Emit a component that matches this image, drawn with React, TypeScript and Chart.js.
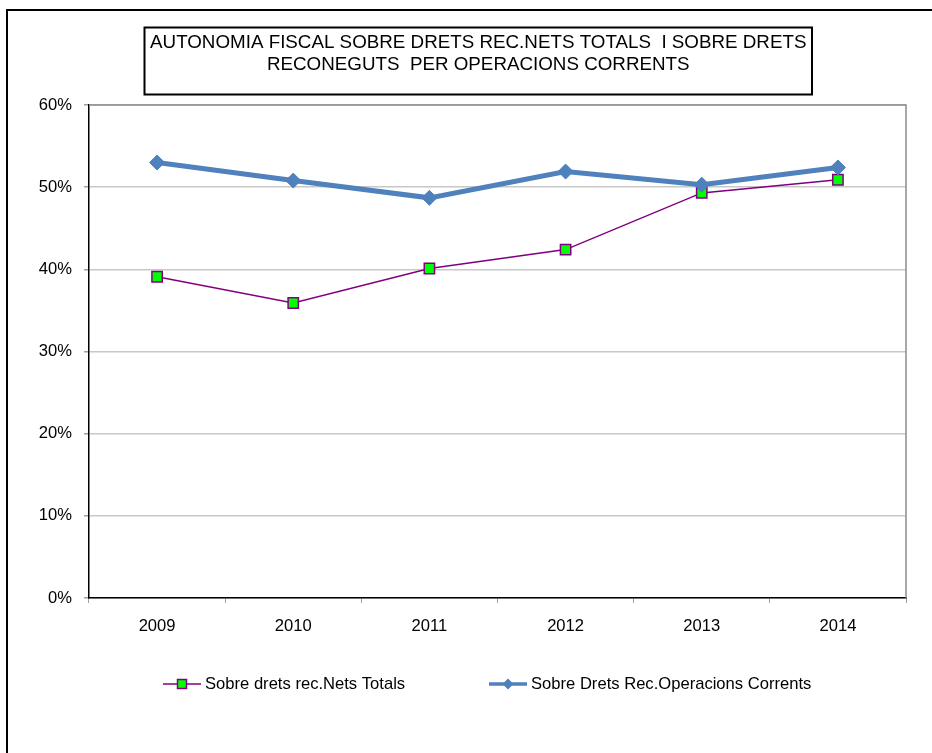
import React, { useEffect, useRef } from 'react';
import { Chart, registerables } from 'chart.js';

Chart.register(...registerables);

const years = ['2009', '2010', '2011', '2012', '2013', '2014'];
const netsTotals = [39.1, 35.9, 40.1, 42.4, 49.3, 50.9];
const operacionsCorrents = [53.0, 50.8, 48.7, 51.9, 50.3, 52.4];
const seriesNames = ['Sobre drets rec.Nets Totals', 'Sobre Drets Rec.Operacions Corrents'];
const titleLines = [
  'AUTONOMIA FISCAL SOBRE DRETS REC.NETS TOTALS  I SOBRE DRETS',
  'RECONEGUTS  PER OPERACIONS CORRENTS',
];
const yMin = 0;
const yMax = 60;
const yStep = 10;

const FONT_FAMILY = '"Liberation Sans", Arial, sans-serif';
const FONT_SIZE = 16.6;
const TITLE_FONT_SIZE = 18.8;
const PURPLE = '#800080';
const GREEN = '#00ff00';
const BLUE = '#4f81bd';

const framePlugin = {
  id: 'frame',
  beforeDraw(chart: any) {
    const ctx = chart.ctx as CanvasRenderingContext2D;
    const W = chart.width;
    const H = chart.height;
    ctx.save();
    ctx.fillStyle = '#ffffff';
    ctx.fillRect(0, 0, W, H);
    // outer border (left + top visible)
    ctx.strokeStyle = '#000';
    ctx.lineWidth = 2;
    ctx.beginPath();
    ctx.moveTo(7, H);
    ctx.lineTo(7, 10);
    ctx.lineTo(W, 10);
    ctx.stroke();
    // title box
    ctx.lineWidth = 2;
    ctx.strokeRect(144.5, 27.5, 667.5, 67);
    ctx.fillStyle = '#000';
    ctx.font = `${TITLE_FONT_SIZE}px ${FONT_FAMILY}`;
    ctx.textAlign = 'center';
    ctx.textBaseline = 'middle';
    const cx = 144.5 + 667.5 / 2;
    ctx.fillText(titleLines[0], cx, 43);
    ctx.fillText(titleLines[1], cx, 65);
    ctx.restore();
  },
  beforeDatasetsDraw(chart: any) {
    const ctx = chart.ctx as CanvasRenderingContext2D;
    const a = chart.chartArea;
    ctx.save();
    ctx.strokeStyle = '#8c8c8c';
    ctx.lineWidth = 1.5;
    ctx.beginPath();
    ctx.moveTo(a.left, a.top);
    ctx.lineTo(a.right, a.top);
    ctx.lineTo(a.right, a.bottom);
    ctx.stroke();
    ctx.restore();
  },
  afterDraw(chart: any) {
    const ctx = chart.ctx as CanvasRenderingContext2D;
    const y = 684;
    ctx.save();
    // item 1
    ctx.strokeStyle = PURPLE;
    ctx.lineWidth = 1.5;
    ctx.beginPath();
    ctx.moveTo(163, y);
    ctx.lineTo(201, y);
    ctx.stroke();
    ctx.fillStyle = GREEN;
    ctx.fillRect(177.5, y - 4.5, 9, 9);
    ctx.strokeRect(177.5, y - 4.5, 9, 9);
    // item 2
    ctx.strokeStyle = BLUE;
    ctx.lineWidth = 3.5;
    ctx.beginPath();
    ctx.moveTo(489, y);
    ctx.lineTo(527, y);
    ctx.stroke();
    ctx.fillStyle = BLUE;
    ctx.beginPath();
    ctx.moveTo(508, y - 5.5);
    ctx.lineTo(513.5, y);
    ctx.lineTo(508, y + 5.5);
    ctx.lineTo(502.5, y);
    ctx.closePath();
    ctx.fill();
    // texts
    ctx.fillStyle = '#000';
    ctx.font = `${FONT_SIZE}px ${FONT_FAMILY}`;
    ctx.textAlign = 'left';
    ctx.textBaseline = 'middle';
    ctx.fillText(seriesNames[0], 205, y);
    ctx.fillText(seriesNames[1], 531, y);
    ctx.restore();
  },
};

export default function App() {
  const canvasRef = useRef<HTMLCanvasElement | null>(null);

  useEffect(() => {
    const canvas = canvasRef.current;
    if (!canvas) return;
    const font = { family: FONT_FAMILY, size: FONT_SIZE };
    const chart = new Chart(canvas, {
      type: 'line',
      data: {
        labels: years,
        datasets: [
          {
            label: seriesNames[0],
            data: netsTotals,
            borderColor: PURPLE,
            borderWidth: 1.5,
            pointStyle: 'rect',
            pointRadius: 7.3,
            pointBackgroundColor: GREEN,
            pointBorderColor: PURPLE,
            pointBorderWidth: 1.5,
            tension: 0,
            order: 1,
          },
          {
            label: seriesNames[1],
            data: operacionsCorrents,
            borderColor: BLUE,
            borderWidth: 5,
            pointStyle: 'rectRot',
            pointRadius: 7.5,
            pointBackgroundColor: BLUE,
            pointBorderColor: BLUE,
            pointBorderWidth: 1,
            tension: 0,
            order: 0,
          },
        ],
      },
      options: {
        responsive: false,
        animation: false,
        devicePixelRatio: 1,
        events: [],
        layout: { padding: { top: 105, right: 26, left: 0, bottom: 0 } },
        plugins: {
          legend: { display: false },
          title: { display: false },
          tooltip: { enabled: false },
        },
        scales: {
          x: {
            type: 'category',
            offset: true,
            grid: {
              offset: true,
              drawOnChartArea: false,
              drawTicks: true,
              tickLength: 5,
              color: '#a0a0a0',
              lineWidth: 1,
            },
            border: { color: '#000', width: 1.5 },
            ticks: { color: '#000', font, padding: 13, maxRotation: 0 },
            afterFit(scale: any) {
              scale.height = 155;
            },
          },
          y: {
            min: yMin,
            max: yMax,
            grid: {
              color: '#c8c8c8',
              lineWidth: 1.5,
              tickLength: 5,
              tickColor: '#a0a0a0',
            },
            border: { color: '#000', width: 1.5 },
            ticks: {
              stepSize: yStep,
              color: '#000',
              font,
              padding: 12,
              callback: (v: any) => `${v}%`,
            },
            afterFit(scale: any) {
              scale.width = 89;
            },
          },
        },
      },
      plugins: [framePlugin],
    });
    return () => chart.destroy();
  }, []);

  return (
    <div style={{ position: 'fixed', left: 0, top: 0, width: 932, height: 753, background: '#fff' }}>
      <canvas ref={canvasRef} width={932} height={753} />
    </div>
  );
}
